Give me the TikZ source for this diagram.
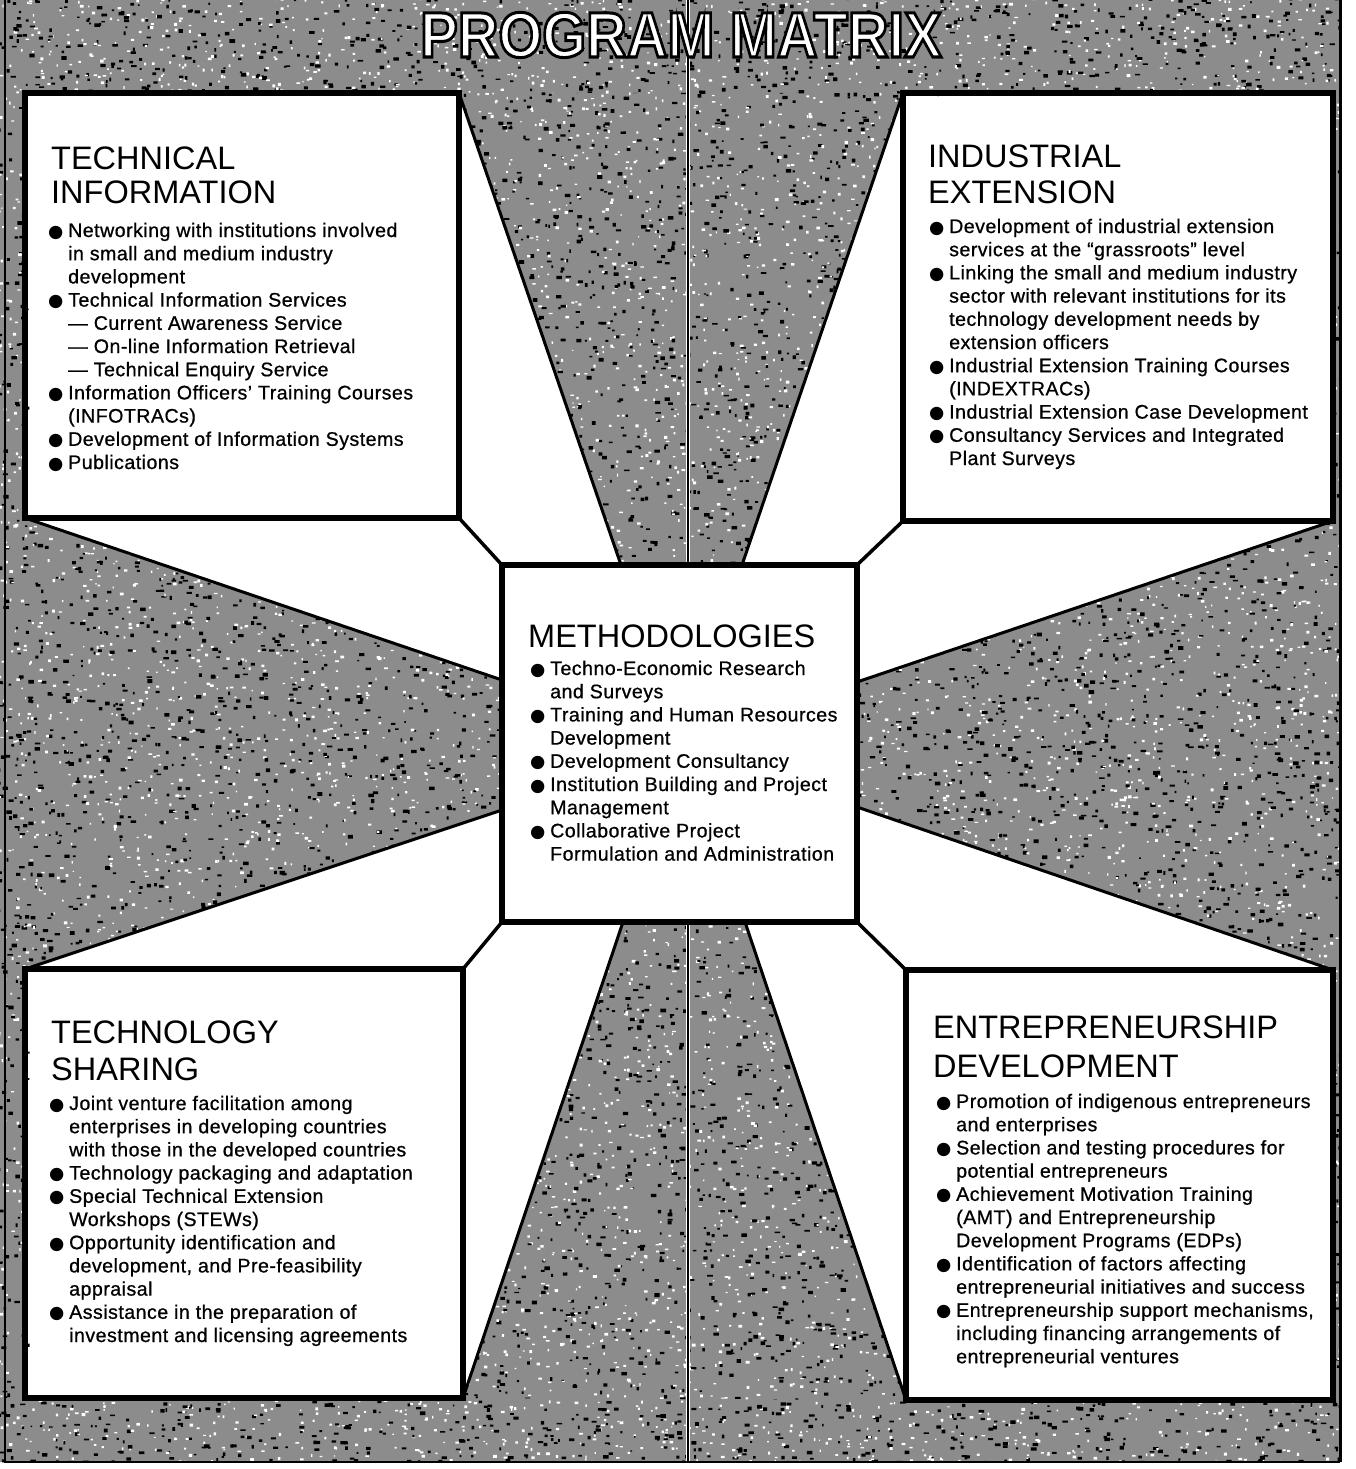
\documentclass[tikz,border=0pt]{standalone}
\usepackage{fontspec}
\setmainfont{Liberation Sans}
\newfontfamily\dejavu{DejaVu Sans}
\newfontfamily\bodyfam{Liberation Sans}[LetterSpace=2.4, FakeBold=0.8]
\newfontfamily\titlefam{Liberation Sans Bold}

\newcommand\hdfont{\fontsize{32.5}{37}\selectfont}
\newcommand\bdfont{\bodyfam\fontsize{19.6}{23.2}\selectfont}
\newcommand\bul{\makebox[20pt][l]{\raisebox{0pt}{\dejavu\fontsize{17.5}{17.5}\selectfont ●}}}
% #5 = number of chunks of 60 speckles
\newcommand\spk[5]{%
  \foreach \j in {1,...,#5}{%
  \fill[black] foreach \i in {1,...,60}{({#1+#3*rnd},{#2+#4*rnd}) rectangle ++({1.6+4*rnd},{1.4+2.4*rnd})};%
  \fill[white] foreach \i in {1,...,60}{({#1+#3*rnd},{#2+#4*rnd}) rectangle ++({1.2+2.6*rnd},{1.1+1.9*rnd})};%
  }%
}

\tikzset{
  panel/.style={draw, line width=5.5pt, outer sep=0pt, inner sep=0pt, rectangle},
  head/.style={anchor=base west, inner sep=0pt, font=\hdfont},
  body/.style={anchor=base west, inner sep=0pt, font=\bdfont},
  edgeline/.style={line width=3pt, line cap=round},
  link/.style={line width=3.5pt, line cap=round},
}

\begin{document}
\begin{tikzpicture}[x=1pt,y=-1pt]
\useasboundingbox (0,0) rectangle (1356,1469);
\pgfmathsetseed{42}

% corner points of the boxes (drawn below as nodes)
\coordinate (tlNW) at (25,93);   \coordinate (tlNE) at (459,93);
\coordinate (tlSW) at (25,518);  \coordinate (tlSE) at (459,518);
\coordinate (trNW) at (903,93);  \coordinate (trNE) at (1333,93);
\coordinate (trSW) at (903,521); \coordinate (trSE) at (1333,521);
\coordinate (blNW) at (25,969);  \coordinate (blNE) at (463,969);
\coordinate (blSW) at (25,1398); \coordinate (blSE) at (463,1398);
\coordinate (brNW) at (906,970); \coordinate (brNE) at (1333,970);
\coordinate (brSW) at (906,1400);\coordinate (brSE) at (1333,1400);

% points on the centre box where the wedges meet it
\coordinate (ct1) at (621,565);
\coordinate (ct2) at (742,565);
\coordinate (cl1) at (502,680);
\coordinate (cl2) at (502,810);
\coordinate (cr1) at (857,682);
\coordinate (cr2) at (857,807);
\coordinate (cb1) at (623,922);
\coordinate (cb2) at (745,922);
\coordinate (v1) at (688,0);
\coordinate (v2) at (688,562);
\coordinate (v3) at (688,925);
\coordinate (v4) at (688,1462);

% textured background
\fill[black!45, even odd rule] (0,0) rectangle (1341,1462)
  (tlNW) -- (tlNE) -- (ct1) -- (ct2) -- (trNW) -- (trNE)
  -- (trSE) -- (cr1) -- (cr2) -- (brNE) -- (brSE) -- (brSW)
  -- (cb2) -- (cb1) -- (blSE) -- (blSW) -- (blNW) -- (cl2) -- (cl1)
  -- (tlSW) -- cycle;
\begin{scope}
  \clip (0,0) rectangle (1341,1462);
  \spk{-3}{-3}{1344}{96}{12}
  \spk{-3}{93}{28}{1307}{3}
  \spk{1333}{93}{8}{1307}{1}
  \spk{-3}{1400}{1344}{62}{8}
\end{scope}
\begin{scope}
  \clip (tlNE) -- (trNW) -- (ct2) -- (ct1) -- cycle;
  \spk{457}{90}{446}{475}{17}
\end{scope}
\begin{scope}
  \clip (blSE) -- (brSW) -- (cb2) -- (cb1) -- cycle;
  \spk{461}{920}{445}{480}{17}
\end{scope}
\begin{scope}
  \clip (tlSW) -- (cl1) -- (cl2) -- (blNW) -- cycle;
  \spk{22}{516}{480}{453}{17}
\end{scope}
\begin{scope}
  \clip (trSE) -- (cr1) -- (cr2) -- (brNE) -- cycle;
  \spk{855}{519}{478}{451}{17}
\end{scope}
\draw[white, line width=4pt] (v1) -- (v2);
\draw[white, line width=4pt] (v3) -- (v4);
\draw[line width=1.2pt] (v1) -- (v2);
\draw[line width=1.2pt] (v3) -- (v4);

% boxes
\node[panel, minimum width=434pt, minimum height=425pt] (tl) at (242,305.5) {};
\node[panel, minimum width=430pt, minimum height=428pt] (tr) at (1118,307) {};
\node[panel, minimum width=438pt, minimum height=429pt] (bl) at (244,1183.5) {};
\node[panel, minimum width=427pt, minimum height=430pt] (br) at (1119.5,1185) {};
\node[panel, minimum width=355pt, minimum height=357pt] (c) at (679.5,743.5) {};

% outer frame
\draw[line width=2pt] (5,0) -- (5,1462) -- (1340,1462);
\draw[line width=3pt] (1340,1462) -- (1340,0);

% wedge edges
\draw[edgeline] (tl.north east) -- (ct1);
\draw[edgeline] (tr.north west) -- (ct2);
\draw[edgeline] (tl.south west) -- (cl1);
\draw[edgeline] (bl.north west) -- (cl2);
\draw[edgeline] (tr.south east) -- (cr1);
\draw[edgeline] (br.north east) -- (cr2);
\draw[edgeline] (bl.south east) -- (cb1);
\draw[edgeline] (br.south west) -- (cb2);

% links from the corner boxes to the centre box
\draw[link] (tl.south east) -- (c.north west);
\draw[link] (tr.south west) -- (c.north east);
\draw[link] (bl.north east) -- (c.south west);
\draw[link] (br.north west) -- (c.south east);

% title: white letters with a black outline
\node[anchor=base, inner sep=0pt] (title) at (681,57)
  {\titlefam\fontsize{64}{64}\selectfont\scalebox{0.88}[1]{\color{white}\special{pdf:literal direct 0 G 3 w 2 Tr}PROGRAM MATRIX\special{pdf:literal direct 0 Tr}}};

% headings
\node[head] (tlh1) at (51,169) {TECHNICAL};
\node[head] (tlh2) at (51,203) {INFORMATION};
\node[head] (trh1) at (928,167) {INDUSTRIAL};
\node[head] (trh2) at (928,203) {EXTENSION};
\node[head] (ch) at (528,647) {METHODOLOGIES};
\node[head] (blh1) at (51,1043) {TECHNOLOGY};
\node[head] (blh2) at (51,1080) {SHARING};
\node[head] (brh1) at (933,1038) {ENTREPRENEURSHIP};
\node[head] (brh2) at (933,1077) {DEVELOPMENT};

% bodies
\node[body] (tlb) at (48,237) {\begin{tabular}[t]{@{}l@{}l@{}}
\bul & Networking with institutions involved\\
 & in small and medium industry\\
 & development\\
\bul & Technical Information Services\\
 & —\hspace{6pt}Current Awareness Service\\
 & —\hspace{6pt}On-line Information Retrieval\\
 & —\hspace{6pt}Technical Enquiry Service\\
\bul & Information Officers’ Training Courses\\
 & (INFOTRACs)\\
\bul & Development of Information Systems\\
\bul & Publications
\end{tabular}};

\node[body] (trb) at (929,233) {\begin{tabular}[t]{@{}l@{}l@{}}
\bul & Development of industrial extension\\
 & services at the “grassroots” level\\
\bul & Linking the small and medium industry\\
 & sector with relevant institutions for its\\
 & technology development needs by\\
 & extension officers\\
\bul & Industrial Extension Training Courses\\
 & (INDEXTRACs)\\
\bul & Industrial Extension Case Development\\
\bul & Consultancy Services and Integrated\\
 & Plant Surveys
\end{tabular}};

\node[body] (cb) at (530,675) {\begin{tabular}[t]{@{}l@{}l@{}}
\bul & Techno-Economic Research\\
 & and Surveys\\
\bul & Training and Human Resources\\
 & Development\\
\bul & Development Consultancy\\
\bul & Institution Building and Project\\
 & Management\\
\bul & Collaborative Project\\
 & Formulation and Administration
\end{tabular}};

\node[body] (blb) at (49,1110) {\begin{tabular}[t]{@{}l@{}l@{}}
\bul & Joint venture facilitation among\\
 & enterprises in developing countries\\
 & with those in the developed countries\\
\bul & Technology packaging and adaptation\\
\bul & Special Technical Extension\\
 & Workshops (STEWs)\\
\bul & Opportunity identification and\\
 & development, and Pre-feasibility\\
 & appraisal\\
\bul & Assistance in the preparation of\\
 & investment and licensing agreements
\end{tabular}};

\node[body] (brb) at (936,1108) {\begin{tabular}[t]{@{}l@{}l@{}}
\bul & Promotion of indigenous entrepreneurs\\
 & and enterprises\\
\bul & Selection and testing procedures for\\
 & potential entrepreneurs\\
\bul & Achievement Motivation Training\\
 & (AMT) and Entrepreneurship\\
 & Development Programs (EDPs)\\
\bul & Identification of factors affecting\\
 & entrepreneurial initiatives and success\\
\bul & Entrepreneurship support mechanisms,\\
 & including financing arrangements of\\
 & entrepreneurial ventures
\end{tabular}};

\end{tikzpicture}
\end{document}
